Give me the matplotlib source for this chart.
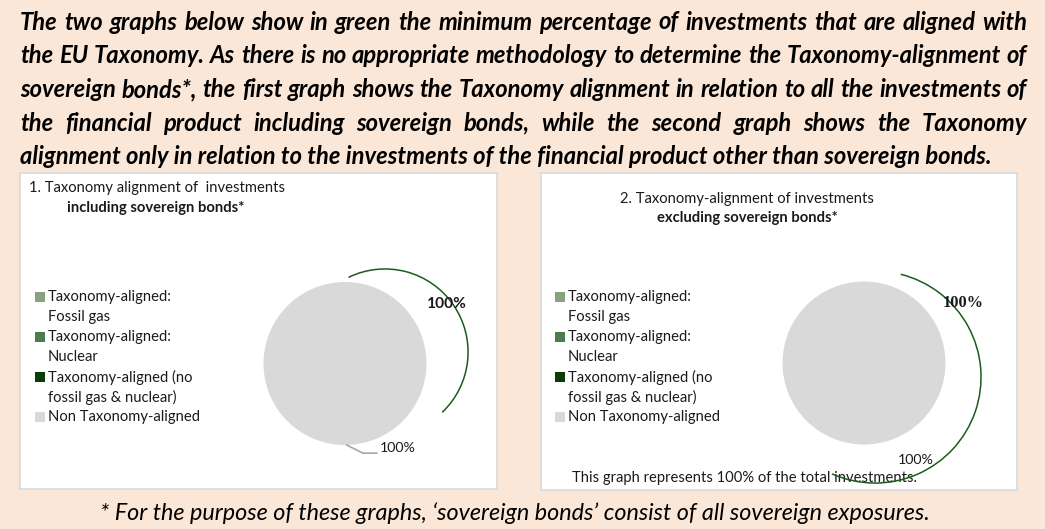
import matplotlib
matplotlib.use("Agg")
import matplotlib.pyplot as plt
from matplotlib.patches import Rectangle, Arc

# data
categories = ["Taxonomy-aligned:\nFossil gas", "Taxonomy-aligned:\nNuclear",
              "Taxonomy-aligned (no\nfossil gas & nuclear)", "Non Taxonomy-aligned"]
colors = ["#86A27E", "#4E7A50", "#0B3D0B", "#D9D9D9"]
incl_values = [0, 0, 0, 100]
excl_values = [0, 0, 0, 100]
incl_aligned_label = "100%"
excl_aligned_label = "100%"

header_lines = [
    "The two graphs below show in green the minimum percentage of investments that are aligned with",
    "the EU Taxonomy. As there is no appropriate methodology to determine the Taxonomy-alignment of",
    "sovereign bonds*, the first graph shows the Taxonomy alignment in relation to all the investments of",
    "the financial product including sovereign bonds, while the second graph shows the Taxonomy",
    "alignment only in relation to the investments of the financial product other than sovereign bonds.",
]
footnote = "* For the purpose of these graphs, \u2018sovereign bonds\u2019 consist of all sovereign exposures."

W, H = 1045, 529
BG = "#FBE7D7"
FONT = "Lato"
TXT = "#1a1a1a"
PFS = 10.6  # panel text size

fig = plt.figure(figsize=(W / 100, H / 100), dpi=100, facecolor=BG)
renderer = fig.canvas.get_renderer()


def px(x, y):
    return x / W, 1 - y / H


# justified header paragraph
left, right = 20, 1027
probe = fig.text(0, 0, header_lines[-1], fontsize=12, family=FONT,
                 weight="bold", style="italic")
fs = 12 * 968 / probe.get_window_extent(renderer).width
probe.remove()
for k, line in enumerate(header_lines):
    y = 22 + k * 33.75
    if k == len(header_lines) - 1:
        fig.text(*px(left, y), line, fontsize=fs, family=FONT, weight="bold",
                 style="italic", va="center", color="black")
        continue
    words = line.split()
    texts = [fig.text(0, 0, w_, fontsize=fs, family=FONT, weight="bold",
                      style="italic", va="center", color="black") for w_ in words]
    widths = [t.get_window_extent(renderer).width for t in texts]
    gap = (right - left - sum(widths)) / (len(words) - 1)
    x = left
    for t, wd in zip(texts, widths):
        t.set_position(px(x, y))
        x += wd + gap

fig.text(*px(515, 513), footnote, fontsize=16.8, family=FONT, style="italic",
         ha="center", va="center", color="black")


def panel(x0, y0, x1, y1):
    ax = fig.add_axes([x0 / W, 1 - y1 / H, (x1 - x0) / W, (y1 - y0) / H])
    ax.set_facecolor("white")
    ax.set_xticks([])
    ax.set_yticks([])
    for s in ax.spines.values():
        s.set_color("#D9D9D9")
        s.set_linewidth(1.2)
    ax.set_xlim(x0, x1)
    ax.set_ylim(y1, y0)
    return ax


def legend(ax, x, y):
    for i, (lab, c) in enumerate(zip(categories, colors)):
        yy = y + i * 40
        ax.add_patch(Rectangle((x, yy - 5), 10, 10, color=c, lw=0))
        for j, part in enumerate(lab.split("\n")):
            ax.text(x + 13, yy + j * 20, part, fontsize=10.6, family=FONT,
                    color=TXT, va="center", ha="left")


def pie_axes(cx, cy, values):
    R = 81.5
    L = 2.0
    ax = fig.add_axes([(cx - L * R) / W, 1 - (cy + L * R) / H, 2 * L * R / W, 2 * L * R / H])
    ax.pie(values, colors=colors, radius=1, startangle=90, counterclock=False,
           wedgeprops=dict(linewidth=0))
    ax.set_xlim(-L, L)
    ax.set_ylim(-L, L)
    ax.set_aspect("equal")
    ax.axis("off")
    return ax


# panel 1
p1 = panel(20, 173, 497, 489)
p1.text(29, 188, "1. Taxonomy alignment of  investments", fontsize=PFS, family=FONT,
        color=TXT, va="center")
p1.text(67, 208, "including sovereign bonds*", fontsize=PFS, family=FONT,
        weight="bold", color=TXT, va="center")
legend(p1, 35, 297)
a1 = pie_axes(345, 363.5, incl_values)
a1.add_patch(Arc((0.49, 0.14), 2.04, 2.04, theta1=-46.5, theta2=116,
                 color="#1E5A1E", lw=1.1))
a1.text(1.25, 0.73, incl_aligned_label, fontsize=11.2, family=FONT, weight="bold",
        color=TXT, ha="center", va="center")
a1.plot([0.02, 0.22, 0.39], [-1.0, -1.10, -1.10], color="#A6A6A6", lw=1.2)
a1.text(0.65, -1.04, "%d%%" % incl_values[-1], fontsize=10.2, family=FONT,
        color=TXT, ha="center", va="center")

# panel 2
p2 = panel(541, 173, 1017, 490)
p2.text(747, 199, "2. Taxonomy-alignment of investments", fontsize=PFS, family=FONT,
        color=TXT, ha="center", va="center")
p2.text(747, 218, "excluding sovereign bonds*", fontsize=PFS, family=FONT,
        weight="bold", color=TXT, ha="center", va="center")
legend(p2, 555, 297)
p2.text(744, 478, "This graph represents %d%% of the total investments." % excl_values[-1],
        fontsize=PFS, family=FONT, color=TXT, ha="center", va="center", zorder=1)
a2 = pie_axes(864, 363, excl_values)
a2.add_patch(Arc((0.136, -0.173), 2.6, 2.6, theta1=-114, theta2=76,
                 color="#1E5A1E", lw=1.1, clip_on=False))
a2.text(1.22, 0.74, excl_aligned_label, fontsize=11.8, family="Liberation Serif",
        weight="bold", color=TXT, ha="center", va="center")
a2.text(0.63, -1.19, "%d%%" % excl_values[-1], fontsize=10.2, family=FONT,
        color=TXT, ha="center", va="center")

fig.savefig("out.png", dpi=100, facecolor=BG)
